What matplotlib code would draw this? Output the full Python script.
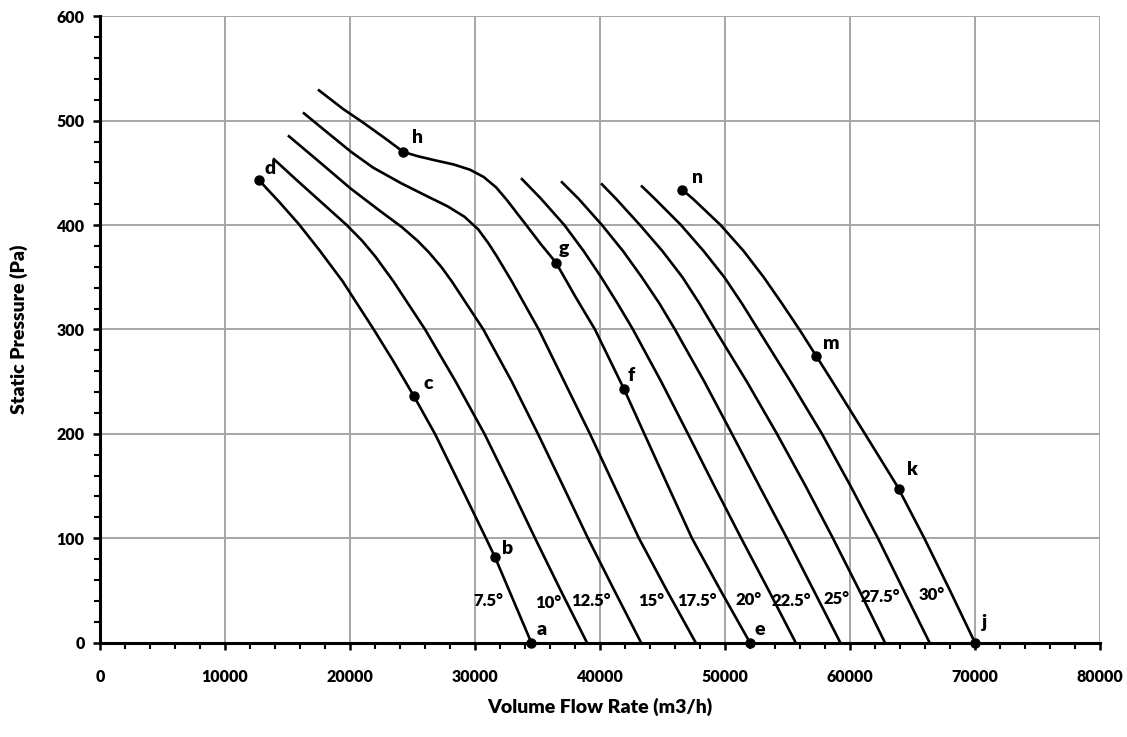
import matplotlib
matplotlib.use('Agg')
import matplotlib.pyplot as plt
from matplotlib.ticker import MultipleLocator

plt.rcParams['font.family'] = ['Lato', 'DejaVu Sans']
plt.rcParams['font.weight'] = 'bold'

# courbes : débit (m3/h), pression statique (Pa)
q_7_5 = [12720, 14350, 15900, 17550, 19420, 21900, 23450, 25120, 26800, 28850, 30880, 31600, 34510]
p_7_5 = [443, 422, 401, 376, 346, 300, 270, 236, 200, 150, 100, 82, 0]
q_10 = [13920, 15740, 17880, 19740, 20970, 22020, 23480, 26010, 28460, 30760, 32810, 34810, 36860, 38960]
p_10 = [463, 443, 420, 400, 385, 370, 346, 300, 250, 200, 150, 100, 50, 0]
q_12_5 = [15120, 17600, 20050, 22350, 24150, 25400, 26300, 27300, 28150, 29300, 30670, 32950, 35040, 37050,
          39040, 41150, 43290]
p_12_5 = [485, 460, 435, 414, 398, 385, 374, 360, 346, 325, 300, 250, 200, 150, 100, 50, 0]
q_15 = [16320, 18050, 20100, 21850, 24100, 26100, 27800, 29150, 30250, 31050, 31750, 32950, 35100, 37150,
        39200, 41150, 43120, 45350, 47660]
p_15 = [507, 490, 470, 455, 440, 428, 418, 408, 396, 383, 370, 346, 300, 250, 200, 150, 100, 50, 0]
q_17_5 = [17520, 19470, 21070, 22930, 24270, 25400, 26800, 28300, 29600, 30700, 31700, 32550, 33450, 34100,
          35250, 36480, 38100, 39600, 41920, 43550, 45450, 47360, 49650, 52000]
p_17_5 = [529, 511, 498, 482, 470, 466, 462, 458, 453, 446, 436, 424, 410, 400, 382, 364, 330, 300, 243, 200,
          150, 100, 50, 0]
q_20 = [33760, 35300, 37150, 38700, 40100, 41400, 42640, 44900, 47040, 49150, 51300, 53500, 55660]
p_20 = [444, 425, 400, 375, 350, 325, 300, 250, 200, 150, 100, 50, 0]
q_22_5 = [36960, 38300, 40160, 41850, 43350, 44750, 46000, 48350, 50560, 52750, 54960, 57100, 59230]
p_22_5 = [441, 425, 400, 375, 350, 325, 300, 250, 200, 150, 100, 50, 0]
q_25 = [40160, 41300, 43200, 45000, 46600, 47950, 49200, 51750, 54160, 56450, 58640, 60750, 62800]
p_25 = [439, 425, 400, 375, 350, 325, 300, 250, 200, 150, 100, 50, 0]
q_27_5 = [43360, 44400, 46480, 48300, 49950, 51350, 52650, 55250, 57760, 60050, 62240, 64300, 66370]
p_27_5 = [437, 425, 400, 375, 350, 325, 300, 250, 200, 150, 100, 50, 0]
q_30 = [46560, 47450, 49650, 51500, 53100, 54550, 55950, 57280, 58600, 61200, 63780, 65950, 68000, 70000]
p_30 = [434, 425, 400, 375, 350, 325, 300, 275, 250, 200, 150, 100, 50, 0]

curves = [(q_7_5, p_7_5), (q_10, p_10), (q_12_5, p_12_5), (q_15, p_15), (q_17_5, p_17_5),
          (q_20, p_20), (q_22_5, p_22_5), (q_25, p_25), (q_27_5, p_27_5), (q_30, p_30)]

# étiquettes d'angle (position du texte au bas des courbes)
angle_labels = ['7.5°', '10°', '12.5°', '15°', '17.5°', '20°', '22.5°', '25°', '27.5°', '30°']
angle_q = [31040, 35890, 39280, 44070, 47730, 51920, 55280, 58930, 62420, 66500]
angle_p = [40, 38, 40, 40, 40, 41, 40, 42, 44, 46]

# points repérés
point_names = ['a', 'b', 'c', 'd', 'e', 'f', 'g', 'h', 'j', 'k', 'm', 'n']
point_q = [34510, 31600, 25120, 12720, 52000, 41920, 36480, 24270, 70000, 63920, 57280, 46560]
point_p = [0, 82, 236, 443, 0, 243, 364, 470, 0, 147, 275, 434]
point_offsets = [(10, 13), (13, 9), (14, 13), (11, 12), (10, 13), (7, 13), (8, 14), (14, 14),
                 (9, 20), (13, 20), (15, 12), (16, 12)]

fig = plt.figure(figsize=(11.27, 7.37), dpi=100)
ax = fig.add_axes([0.0887, 0.128, 0.8873, 0.850])

for q, p in curves:
    ax.plot(q, p, color='black', linewidth=1.9, solid_joinstyle='round', zorder=3)

ax.plot(point_q, point_p, 'o', color='black', markersize=6.5, zorder=4, clip_on=False)
for name, q, p, off in zip(point_names, point_q, point_p, point_offsets):
    ax.annotate(name, (q, p), xytext=off, textcoords='offset pixels', ha='center', va='center',
                fontsize=14, fontweight='heavy', zorder=5)

for label, q, p in zip(angle_labels, angle_q, angle_p):
    ax.text(q, p, label, ha='center', va='center', fontsize=12, fontweight='heavy')

ax.set_xlim(0, 80000)
ax.set_ylim(0, 600)
ax.xaxis.set_major_locator(MultipleLocator(10000))
ax.xaxis.set_minor_locator(MultipleLocator(2000))
ax.yaxis.set_major_locator(MultipleLocator(100))
ax.yaxis.set_minor_locator(MultipleLocator(20))
ax.grid(True, which='major', color='#a6a6a6', linewidth=1.4)
ax.set_axisbelow(True)

for side in ['top', 'right']:
    ax.spines[side].set_visible(False)
for side in ['left', 'bottom']:
    ax.spines[side].set_linewidth(2.2)
ax.tick_params(which='major', direction='out', length=5, width=1.8, labelsize=11.5)
ax.tick_params(which='minor', direction='out', length=4, width=1.5)
ax.tick_params(axis='x', which='major', pad=14)
ax.tick_params(axis='y', which='major', pad=6)
for lbl in ax.get_xticklabels() + ax.get_yticklabels():
    lbl.set_fontweight('heavy')

ax.set_xlabel('Volume Flow Rate (m3/h)', fontsize=14, fontweight='heavy')
ax.set_ylabel('Static Pressure (Pa)', fontsize=14, fontweight='heavy')
ax.xaxis.set_label_coords(0.5, -0.088)
ax.yaxis.set_label_coords(-0.072, 0.5)

fig.savefig('out.png', dpi=100)
